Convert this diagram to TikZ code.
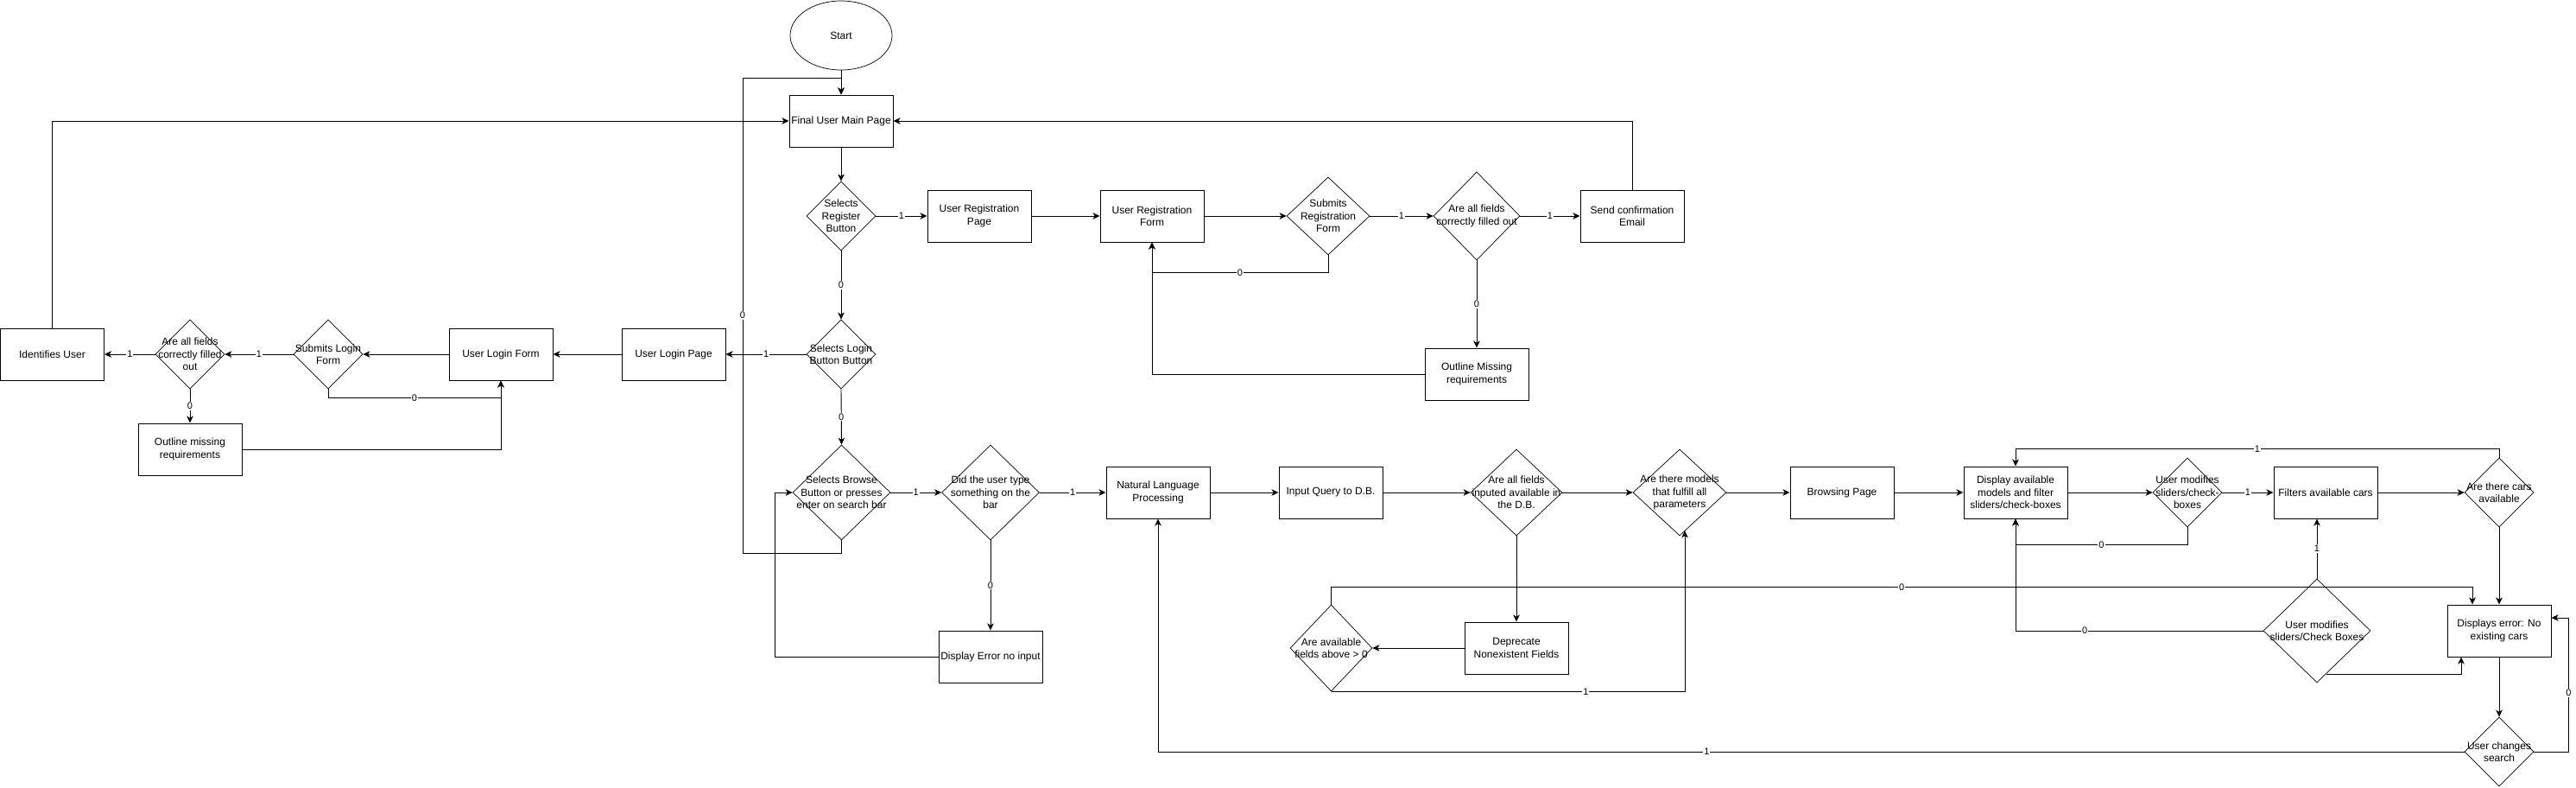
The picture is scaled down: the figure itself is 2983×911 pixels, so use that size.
\documentclass[tikz,border=0pt]{standalone}
\usepackage{fontspec}
\setmainfont{Liberation Sans}
\usetikzlibrary{shapes.geometric,arrows.meta,calc}
\tikzset{
 box/.style={draw, rectangle, line width=1pt, minimum width=120pt, minimum height=60pt, inner sep=1pt, align=center, font=\fontsize{12}{14.4}\selectfont},
 dia/.style={draw, diamond, inner sep=0pt, line width=0.7pt},
 dtxt/.style={align=center, inner sep=0pt, font=\fontsize{12}{14.4}\selectfont},
 arr/.style={-{Stealth[length=8pt,width=7.5pt,inset=2.2pt]}, line width=0.9pt},
 lbl/.style={fill=white, inner sep=1pt, font=\fontsize{11}{13}\selectfont},
}
\newcommand\dnode[5]{\node[dia, minimum width=#3pt, minimum height=#4pt] (#1) at (#2) {}; \node[dtxt] (#1t) at (#1.center) {#5};}
\begin{document}
\begin{tikzpicture}[x=1pt,y=-1pt]
\useasboundingbox (0,0) rectangle (2983,911);
% nodes
\node[draw, ellipse, line width=0.7pt, minimum width=118pt, minimum height=80pt, inner sep=0pt, font=\fontsize{12}{14.4}\selectfont] (start) at (974,41) {Start};
\node[box] (main) at (974,140) {Final User Main Page};
\dnode{reg}{974,250}{80}{80}{Selects\\Register\\Button}
\node[box] (regpage) at (1134,250) {User Registration\\Page};
\node[box] (regform) at (1334,250) {User Registration\\Form};
\dnode{subreg}{1538,250}{96}{90}{Submits\\Registration\\Form}
\dnode{regok}{1710,250}{100}{102}{Are all fields\\correctly filled out}
\node[box] (email) at (1890,250) {Send confirmation\\Email};
\node[box] (regmiss) at (1710,433) {Outline Missing\\requirements};
\dnode{login}{974,410}{80}{80}{Selects Login\\Button Button}
\node[box] (loginpage) at (780,410) {User Login Page};
\node[box] (loginform) at (580,410) {User Login Form};
\dnode{sublogin}{380,410}{80}{80}{Submits Login\\Form}
\dnode{loginok}{220,410}{80}{80}{Are all fields\\correctly filled\\out}
\node[box] (ident) at (60.5,410) {Identifies User};
\node[box] (loginmiss) at (220,520) {Outline missing\\requirements};
\dnode{browse}{974.5,570}{113}{110}{Selects Browse\\Button or presses\\enter on search bar}
\dnode{typed}{1147,570}{113}{110}{Did the user type\\something on the\\bar}
\node[box] (nlp) at (1341,570) {Natural Language\\Processing};
\node[box] (query) at (1541,570) {Input Query to D.B.};
\dnode{indb}{1756,570}{106}{100}{Are all fields\\inputed available in\\the D.B.}
\dnode{models}{1945,570}{108}{100}{Are there models\\that fulfill all\\parameters}
\node[box] (browsing) at (2133,570) {Browsing Page};
\node[box] (display) at (2334,570) {Display available\\models and filter\\sliders/check-boxes};
\dnode{modA}{2533,570}{80}{80}{User modifies\\sliders/check-\\boxes}
\node[box] (filters) at (2693,570) {Filters available cars};
\dnode{cars}{2894,570}{80}{80}{Are there cars\\available}
\node[box] (noinput) at (1147,760) {Display Error no input};
\node[box] (deprecate) at (1756,750) {Deprecate\\Nonexistent Fields};
\dnode{above}{1541.5,750}{95}{100}{Are available\\fields above > 0}
\dnode{modB}{2683,730}{124}{120}{User modifies\\sliders/Check Boxes}
\node[box] (err) at (2894,730) {Displays error: No\\existing cars};
\dnode{change}{2894,870}{80}{80}{User changes\\search}
% coordinates
\coordinate (lpb) at (860,640);
\coordinate (lpt) at (860,90);
\coordinate (nib) at (897,760);
% edges: top part
\draw[arr] (start.south) -- (main.north);
\draw[arr] (browse.south) |- (lpb) -- node[lbl]{0} (lpt) -| (main.north);
\draw[arr] (main.south) -- (reg.north);
\draw[arr] (reg.east) -- node[lbl]{1} (regpage.west);
\draw[arr] (regpage.east) -- (regform.west);
\draw[arr] (regform.east) -- (subreg.west);
\draw[arr] (subreg.east) -- node[lbl]{1} (regok.west);
\draw[arr] (regok.east) -- node[lbl]{1} (email.west);
\draw[arr] (email.north) |- (main.east);
\draw[arr] (subreg.south) -- ++(0,20) -| node[lbl,pos=0.25]{0} (regform.south);
\draw[arr] (regok.south) -- node[lbl]{0} (regmiss.north);
\draw[arr] (regmiss.west) -| (regform.south);
% login
\draw[arr] (reg.south) -- node[lbl]{0} (login.north);
\draw[arr] (login.west) -- node[lbl]{1} (loginpage.east);
\draw[arr] (loginpage.west) -- (loginform.east);
\draw[arr] (loginform.west) -- (sublogin.east);
\draw[arr] (sublogin.west) -- node[lbl]{1} (loginok.east);
\draw[arr] (loginok.west) -- node[lbl]{1} (ident.east);
\draw[arr] (ident.north) |- (main.west);
\draw[arr] (sublogin.south) -- ++(0,10) -| node[lbl,pos=0.25]{0} (loginform.south);
\draw[arr] (loginok.south) -- node[lbl]{0} (loginmiss.north);
\draw[arr] (loginmiss.east) -| (loginform.south);
% browse
\draw[arr] (login.south) -- node[lbl]{0} (browse.north);
\draw[arr] (browse.east) -- node[lbl]{1} (typed.west);
\draw[arr] (typed.east) -- node[lbl]{1} (nlp.west);
\draw[arr] (typed.south) -- node[lbl]{0} (noinput.north);
\draw[arr] (noinput.west) -- (nib) |- (browse.west);
\draw[arr] (nlp.east) -- (query.west);
\draw[arr] (query.east) -- (indb.west);
\draw[arr] (indb.east) -- (models.west);
\draw[arr] (indb.south) -- (deprecate.north);
\draw[arr] (deprecate.west) -- (above.east);
\draw[arr] (above.south) -| node[lbl,pos=0.36]{1} ($(models.south)+(6,-6)$);
\draw[arr] (above.north) -- ++(0,-20) -| node[lbl,pos=0.25]{0} ($(err.north)+(-31,0)$);
\draw[arr] (models.east) -- (browsing.west);
\draw[arr] (browsing.east) -- (display.west);
\draw[arr] (display.east) -- (modA.west);
\draw[arr] (modA.east) -- node[lbl]{1} (filters.west);
\draw[arr] (filters.east) -- (cars.west);
\draw[arr] (cars.north) -- ++(0,-10) -| node[lbl,pos=0.25]{1} (display.north);
\draw[arr] (modA.south) -- ++(0,20) -| node[lbl,pos=0.25]{0} (display.south);
\draw[arr] (cars.south) -- (err.north);
\draw[arr] (modB.north) -- node[lbl]{1} (modB.north |- filters.south);
\draw[arr] (modB.west) -| node[lbl,pos=0.36]{0} (display.south);
\draw[arr] ($(modB.south)!0.17!(modB.east)$) -| ($(err.south)+(-44,0)$);
\draw[arr] (err.south) -- (change.north);
\draw[arr] (change.east) -- ++(40,0) |- node[lbl,pos=0.22]{0} ($(err.east)+(0,-15)$);
\draw[arr] (change.west) -| node[lbl,pos=0.29]{1} (nlp.south);
\end{tikzpicture}
\end{document}
